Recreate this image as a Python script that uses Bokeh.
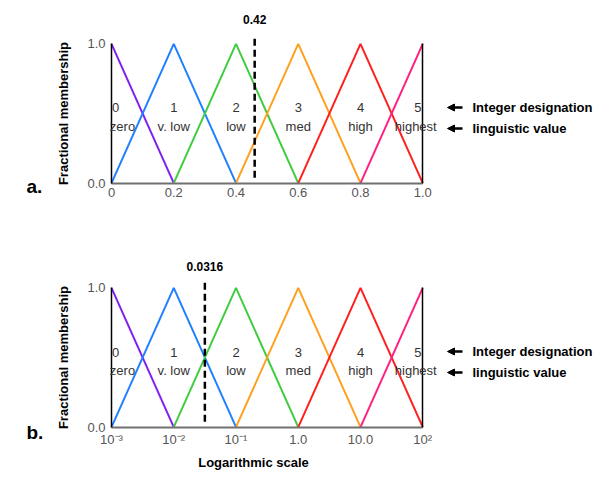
import math
from bokeh.plotting import figure
from bokeh.layouts import column
from bokeh.models import (Range1d, FixedTicker, LinearAxis, LogAxis, Label, LabelSet,
                          ColumnDataSource, Arrow, NormalHead)
from bokeh.core.properties import value
from bokeh.embed import file_html
from bokeh.resources import INLINE

# ---------------- data ----------------
peaks_a = [0.0, 0.2, 0.4, 0.6, 0.8, 1.0]
tick_labels_a = ["0", "0.2", "0.4", "0.6", "0.8", "1.0"]
peaks_b = [1e-3, 1e-2, 1e-1, 1.0, 10.0, 100.0]
tick_labels_b = ["10\u207b\u00b3", "10\u207b\u00b2", "10\u207b\u00b9", "1.0", "10.0", "10\u00b2"]
integer_labels = ["0", "1", "2", "3", "4", "5"]
linguistic_labels = ["zero", "v. low", "low", "med", "high", "highest"]
colors = ["#8020f0", "#2080ff", "#40cc40", "#ffa020", "#ff2020", "#ff2080"]
y_ticks = [0.0, 1.0]
y_tick_labels = ["0.0", "1.0"]
marker_a = 0.46
marker_a_text = "0.42"
marker_b = 0.0316
marker_b_text = "0.0316"
marker_span = (0.04, 1.04)

FONT = "Liberation Sans"
TXT = "#333333"
GRAY = "#555555"
W = 600

# pixel geometry (figure coordinates)
X0 = 111.0        # left frame (x = first peak)
XW = 311.25       # width of data span
YH = 139.3        # height of 0..1


class Panel:
    def __init__(self, peaks, log, height, y0px):
        self.peaks, self.log, self.height, self.y0px = peaks, log, height, y0px
        if log:
            self.lo, self.hi = math.log10(peaks[0]), math.log10(peaks[-1])
        else:
            self.lo, self.hi = peaks[0], peaks[-1]

    def x(self, px):
        v = self.lo + (self.hi - self.lo) * (px - X0) / XW
        return 10 ** v if self.log else v

    def y(self, py):
        return (self.y0px - py) / YH


def build(peaks, tick_labels, log, height, y0px, marker, marker_text, panel,
          num_py, ling_py, ann_py1, ann_py2, marker_text_py, letter_py,
          xlabel=None, xlabel_py=None):
    g = Panel(peaks, log, height, y0px)
    kw = dict(x_axis_type="log") if log else {}
    p = figure(width=W, height=height,
               x_range=Range1d(g.x(0), g.x(W)), y_range=Range1d(g.y(height), g.y(0)),
               output_backend="svg", toolbar_location=None,
               min_border=0, min_border_left=0, min_border_right=0,
               min_border_top=0, min_border_bottom=0,
               y_axis_location=None, x_axis_location=None, **kw)
    p.grid.visible = False
    p.outline_line_color = None
    p.background_fill_color = "white"
    p.border_fill_color = "white"

    XAxis = LogAxis if log else LinearAxis

    # axes (drawn at fixed data locations)
    xa = XAxis(ticker=FixedTicker(ticks=peaks), fixed_location=0.0,
               bounds=(peaks[0], peaks[-1]),
               major_label_overrides={v: t for v, t in zip(peaks, tick_labels)})
    xa.axis_line_color = "#707070"
    xa.axis_line_width = 2
    xa.major_tick_out = 0
    xa.major_tick_in = 0
    xa.minor_tick_out = 0
    xa.minor_tick_in = 0
    xa.major_label_standoff = 5
    xa.major_label_text_font = FONT
    xa.major_label_text_font_size = "13px"
    xa.major_label_text_color = GRAY
    p.add_layout(xa, "below")

    ya = LinearAxis(ticker=FixedTicker(ticks=y_ticks), bounds=(0, 1),
                    fixed_location=peaks[0],
                    major_label_overrides={v: t for v, t in zip(y_ticks, y_tick_labels)})
    ya.axis_line_color = "black"
    ya.axis_line_width = 1.5
    ya.major_tick_out = 0
    ya.major_tick_in = 0
    ya.minor_tick_out = 0
    ya.minor_tick_in = 0
    ya.major_label_standoff = 6
    ya.major_label_text_font = FONT
    ya.major_label_text_font_size = "13px"
    ya.major_label_text_color = GRAY
    p.add_layout(ya, "left")

    yr = LinearAxis(ticker=FixedTicker(ticks=[]), bounds=(0, 1), fixed_location=peaks[-1])
    yr.axis_line_color = "black"
    yr.axis_line_width = 1.5
    yr.major_tick_out = 0
    yr.minor_tick_out = 0
    yr.major_label_text_font_size = "0px"
    p.add_layout(yr, "right")

    # membership triangles
    for i, c in enumerate(colors):
        xs = [peaks[j] for j in (i - 1, i, i + 1) if 0 <= j < len(peaks)]
        ys = [1.0 if j == i else 0.0 for j in (i - 1, i, i + 1) if 0 <= j < len(peaks)]
        p.line(xs, ys, line_color=c, line_width=2)

    # marker line
    p.segment(x0=[marker], y0=[marker_span[0]], x1=[marker], y1=[marker_span[1]],
              line_color="black", line_width=2.5, line_dash="7 4")
    p.add_layout(Label(x=marker, y=g.y(marker_text_py), text=marker_text,
                       text_font=FONT, text_font_size="12px", text_font_style="bold",
                       text_align="center", text_baseline="middle", text_color="black"))

    # in-plot labels
    offs = [4, 0, 0, 0, 0, -5]
    loffs = [11, 0, 0, 0, 0, -7]
    src = ColumnDataSource(dict(x=peaks, yn=[g.y(num_py)] * 6, yl=[g.y(ling_py)] * 6,
                                num=integer_labels, ling=linguistic_labels,
                                on=offs, ol=loffs))
    p.add_layout(LabelSet(x="x", y="yn", text="num", source=src, x_offset="on",
                          text_font=value(FONT), text_font_size=value("13px"),
                          text_color=TXT, text_align="center", text_baseline="middle"))
    p.add_layout(LabelSet(x="x", y="yl", text="ling", source=src, x_offset="ol",
                          text_font=value(FONT), text_font_size=value("13px"),
                          text_color=TXT, text_align="center", text_baseline="middle"))

    # right annotations
    for py, t in [(ann_py1, "Integer designation"), (ann_py2, "linguistic value")]:
        yy = g.y(py)
        p.add_layout(Arrow(end=NormalHead(size=7, fill_color="black", line_color="black"),
                           x_start=g.x(462), y_start=yy, x_end=g.x(447), y_end=yy,
                           line_color="black", line_width=2.5))
        p.add_layout(Label(x=g.x(472), y=yy, text=t,
                           text_font=FONT, text_font_size="13px", text_font_style="bold",
                           text_align="left", text_baseline="middle", text_color="black"))

    # y label
    p.add_layout(Label(x=g.x(63), y=0.5, text="Fractional membership",
                       angle=math.pi / 2, text_font=FONT, text_font_size="13px",
                       text_font_style="bold", text_align="center",
                       text_baseline="middle", text_color="black"))
    # panel letter
    p.add_layout(Label(x=g.x(26), y=g.y(letter_py), text=panel,
                       text_font=FONT, text_font_size="19px", text_font_style="bold",
                       text_align="left", text_baseline="alphabetic", text_color="black"))
    if xlabel:
        p.add_layout(Label(x=g.x(253), y=g.y(xlabel_py), text=xlabel,
                           text_font=FONT, text_font_size="13px", text_font_style="bold",
                           text_align="center", text_baseline="middle", text_color="black"))
    return p


# panel a occupies page y 0..240, panel b page y 240..498 (offsets applied)
pa = build(peaks_a, tick_labels_a, False, 240, 182.7, marker_a, marker_a_text, "a.",
           num_py=107, ling_py=126, ann_py1=107, ann_py2=128, marker_text_py=19,
           letter_py=186)
OFF = 240
pb = build(peaks_b, tick_labels_b, True, 258, 426.7 - OFF, marker_b, marker_b_text, "b.",
           num_py=352 - OFF, ling_py=370 - OFF, ann_py1=351 - OFF, ann_py2=372 - OFF,
           marker_text_py=266 - OFF, letter_py=432 - OFF,
           xlabel="Logarithmic scale", xlabel_py=462 - OFF)

layout = column(pa, pb, spacing=0)
open("out.html", "w").write(file_html(layout, INLINE))
